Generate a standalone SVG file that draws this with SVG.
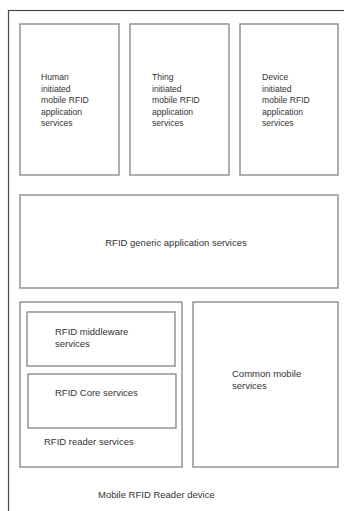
<svg xmlns="http://www.w3.org/2000/svg" width="344" height="511" viewBox="0 0 344 511">
<style>
.box{fill:#fff;stroke:#8c8c8c;stroke-width:1.4}
.outer{fill:#fff;stroke:#4a4a4a;stroke-width:1.2}
text{font-family:"Liberation Sans",Arial,sans-serif;fill:#333}
.s{font-size:8.6px}
.m{font-size:9.5px}
</style>
<rect width="344" height="511" fill="#fff"/>
<g id="device">
<rect class="outer" x="8.5" y="10.5" width="345" height="510"/>
<text class="m" x="98" y="498">Mobile RFID Reader device</text>
</g>
<g id="human">
<rect class="box" x="20" y="24" width="99" height="151"/>
<text class="s" x="41" y="80"><tspan x="41">Human</tspan><tspan x="41" dy="11.5">initiated</tspan><tspan x="41" dy="11.5">mobile RFID</tspan><tspan x="41" dy="11.5">application</tspan><tspan x="41" dy="11.5">services</tspan></text>
</g>
<g id="thing">
<rect class="box" x="130" y="24" width="99" height="151"/>
<text class="s" x="152" y="80"><tspan x="152">Thing</tspan><tspan x="152" dy="11.5">initiated</tspan><tspan x="152" dy="11.5">mobile RFID</tspan><tspan x="152" dy="11.5">application</tspan><tspan x="152" dy="11.5">services</tspan></text>
</g>
<g id="devicesvc">
<rect class="box" x="240" y="24" width="98" height="151"/>
<text class="s" x="262" y="80"><tspan x="262">Device</tspan><tspan x="262" dy="11.5">initiated</tspan><tspan x="262" dy="11.5">mobile RFID</tspan><tspan x="262" dy="11.5">application</tspan><tspan x="262" dy="11.5">services</tspan></text>
</g>
<g id="generic">
<rect class="box" x="20" y="195" width="318" height="93"/>
<text class="m" x="176" y="246" text-anchor="middle">RFID generic application services</text>
</g>
<g id="reader">
<rect class="box" x="20" y="302" width="162" height="165"/>
<text class="m" x="44" y="445">RFID reader services</text>
</g>
<g id="middleware">
<rect class="box" x="27" y="312" width="148" height="54"/>
<text class="m" x="55" y="335"><tspan x="55">RFID middleware</tspan><tspan x="55" dy="11.5">services</tspan></text>
</g>
<g id="core">
<rect class="box" x="28" y="374" width="148" height="54"/>
<text class="m" x="55" y="396">RFID Core services</text>
</g>
<g id="common">
<rect class="box" x="193" y="302" width="145" height="165"/>
<text class="m" x="232" y="377"><tspan x="232">Common mobile</tspan><tspan x="232" dy="11.5">services</tspan></text>
</g>
<g id="connectors"></g>
</svg>
